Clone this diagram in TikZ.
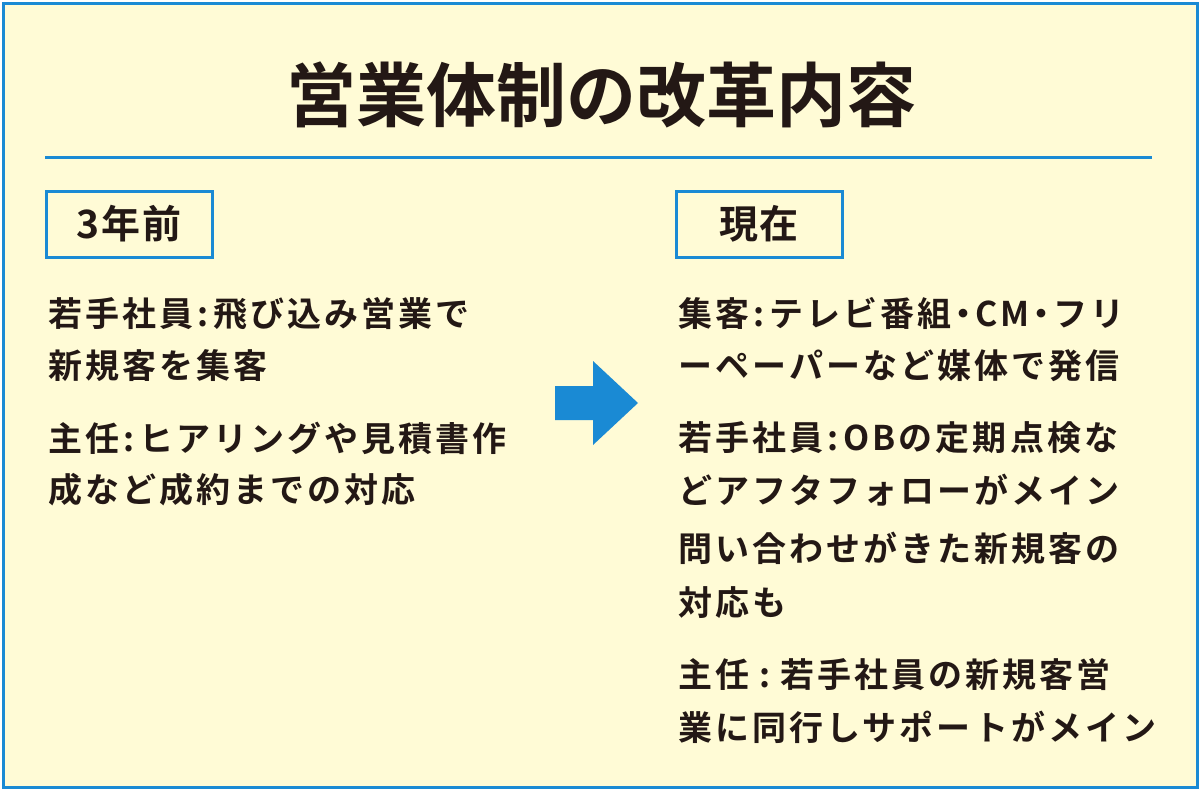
\documentclass[tikz,border=0pt]{standalone}
\usepackage{fontspec}
\newfontfamily\cjk{Noto Sans CJK JP}[BoldFont={Noto Sans CJK JP Bold}]
\newfontfamily\cjkb{Noto Sans CJK JP Bold}[LetterSpace=9]
\newfontfamily\cjkt{Noto Sans CJK JP Bold}[LetterSpace=4]
\definecolor{bg}{HTML}{FFFBD6}
\definecolor{bl}{HTML}{1A8AD4}
\definecolor{tx}{HTML}{231815}
\newcommand{\nd}{\kern-5pt・\kern-5pt}
\newcommand{\cl}{\kern4pt:\kern5pt}
\tikzset{
 body/.style={anchor=west,inner sep=0pt,text=tx,font=\cjkb\fontsize{34}{34}\selectfont},
 tag/.style={draw=bl,line width=3pt,minimum width=166pt,minimum height=66pt,inner sep=0pt,text=tx,font=\cjkt\fontsize{39}{39}\selectfont}
}
\begin{document}
\begin{tikzpicture}[x=1pt,y=-1pt]
\useasboundingbox (0,0) rectangle (1200,790);
\draw[fill=bg,draw=bl,line width=3pt] (3,3) rectangle (1197,787);
\node[text=tx,font=\cjk\bfseries\fontsize{70}{70}\selectfont] (title) at (601,95) {営業体制の改革内容};
\coordinate (l1) at (45,157); \coordinate (l2) at (1152,157);
\draw[bl,line width=3pt] (l1) -- (l2);
\node[tag] (before) at (129,224) {3年前};
\node[tag] (now) at (759,224) {現在};
\node[body] (a1) at (48,314) {若手社員\cl 飛び込み営業で};
\node[body] (a2) at (48,366) {新規客を集客};
\node[body] (a3) at (48,438) {主任\cl ヒアリングや見積書作};
\node[body] (a4) at (48,490) {成など成約までの対応};
\node[body] (b1) at (678,314) {集客\cl テレビ番組\nd CM\nd フリ};
\node[body] (b2) at (678,366) {ーペーパーなど媒体で発信};
\node[body] (b3) at (678,438) {若手社員\cl OBの定期点検な};
\node[body] (b4) at (678,490) {どアフタフォローがメイン};
\node[body] (b5) at (678,548) {問い合わせがきた新規客の};
\node[body] (b6) at (678,603) {対応も};
\node[body] (b7) at (678,675) {主任\kern10pt:\kern10pt 若手社員の新規客営};
\node[body] (b8) at (678,727) {業に同行しサポートがメイン};
\fill[bl] (555,386) -- (593,386) -- (593,361) -- (638,403) -- (593,445) -- (593,420) -- (555,420) -- cycle;
\end{tikzpicture}
\end{document}
